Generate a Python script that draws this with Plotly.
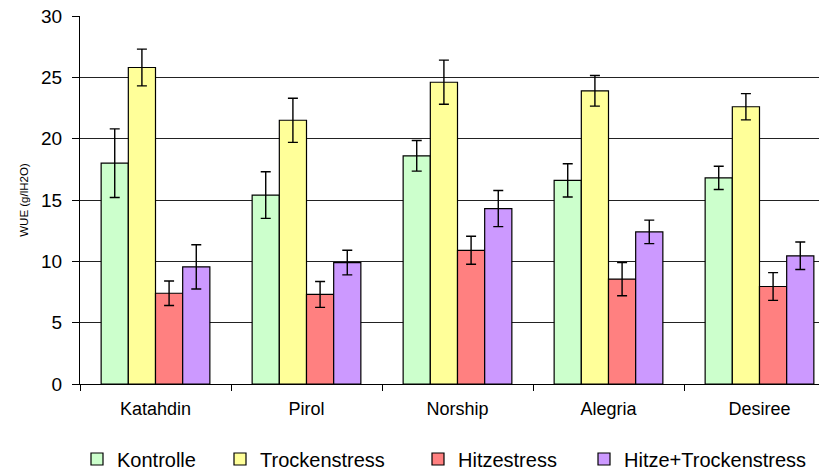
import plotly.graph_objects as go

categories = ["Katahdin", "Pirol", "Norship", "Alegria", "Desiree"]
series_names = ["Kontrolle", "Trockenstress", "Hitzestress", "Hitze+Trockenstress"]
kontrolle = [18.0, 15.4, 18.6, 16.6, 16.8]
kontrolle_err = [2.8, 1.9, 1.25, 1.35, 0.95]
trocken = [25.8, 21.5, 24.6, 23.9, 22.6]
trocken_err = [1.5, 1.8, 1.8, 1.25, 1.07]
hitze = [7.4, 7.3, 10.9, 8.55, 7.95]
hitze_err = [1.0, 1.05, 1.14, 1.36, 1.13]
hitze_trocken = [9.55, 9.9, 14.3, 12.4, 10.45]
hitze_trocken_err = [1.8, 1.0, 1.47, 0.96, 1.12]
colors = ["#CCFFCC", "#FFFF99", "#FF8080", "#CC99FF"]
y_ticks = [0, 5, 10, 15, 20, 25, 30]

values = [kontrolle, trocken, hitze, hitze_trocken]
errors = [kontrolle_err, trocken_err, hitze_err, hitze_trocken_err]

FONT = "Liberation Sans, Arial, sans-serif"
# the page body adds an 8px margin at the top-left of the figure
OFF = 8
W, H = 827 - OFF, 468 - OFF
ml, mr, mt, mb = 80 - OFF, 0, 16 - OFF, 84
pw = W - ml - mr
ph = H - mt - mb

# legend item positions (screen pixel left edge of each legend block)
legend_px = [77, 220, 418, 584]
legend_names = ["legend", "legend2", "legend3", "legend4"]
legend_center_y = 459  # screen px

fig = go.Figure()
for i, name in enumerate(series_names):
    fig.add_trace(go.Bar(
        name=name,
        x=categories,
        y=values[i],
        marker=dict(color=colors[i], line=dict(color="black", width=1.2)),
        error_y=dict(type="data", array=errors[i], visible=True,
                     color="black", thickness=1.4, width=5),
        legend=legend_names[i],
    ))

layout_legends = {}
for i, ln in enumerate(legend_names):
    layout_legends[ln] = dict(
        x=(legend_px[i] - 80) / pw,
        xanchor="left",
        y=(384 - legend_center_y) / ph,
        yanchor="middle",
        orientation="h",
        bgcolor="rgba(0,0,0,0)",
        font=dict(family=FONT, size=20, color="black"),
    )

fig.update_layout(
    width=W, height=H,
    margin=dict(l=ml, r=mr, t=mt, b=mb, autoexpand=False),
    paper_bgcolor="white",
    plot_bgcolor="white",
    barmode="group",
    bargap=0.28,
    bargroupgap=0,
    showlegend=True,
    font=dict(family=FONT, color="black"),
    xaxis=dict(
        type="category",
        categoryorder="array",
        categoryarray=categories,
        range=[-0.5, -0.5 + pw / 151.0],
        showline=True, linecolor="black", linewidth=1,
        ticks="outside", tickson="boundaries", ticklen=6, tickcolor="black",
        showgrid=False,
        automargin=False,
        tickfont=dict(family=FONT, size=18, color="black"),
        ticklabelstandoff=8,
        ticklabeloverflow="allow",
    ),
    yaxis=dict(
        range=[0, 30],
        tickvals=y_ticks,
        showline=True, linecolor="black", linewidth=1,
        ticks="outside", ticklen=7, tickcolor="black",
        showgrid=True, gridcolor="#222222", gridwidth=1,
        zeroline=False,
        automargin=False,
        tickfont=dict(family=FONT, size=19, color="black"),
        ticklabelstandoff=6,
        ticklabeloverflow="allow",
        title=dict(text="WUE (g/lH2O)", font=dict(family=FONT, size=11.5, color="black"), standoff=10),
    ),
    **layout_legends,
)

fig.write_html("out.html")
